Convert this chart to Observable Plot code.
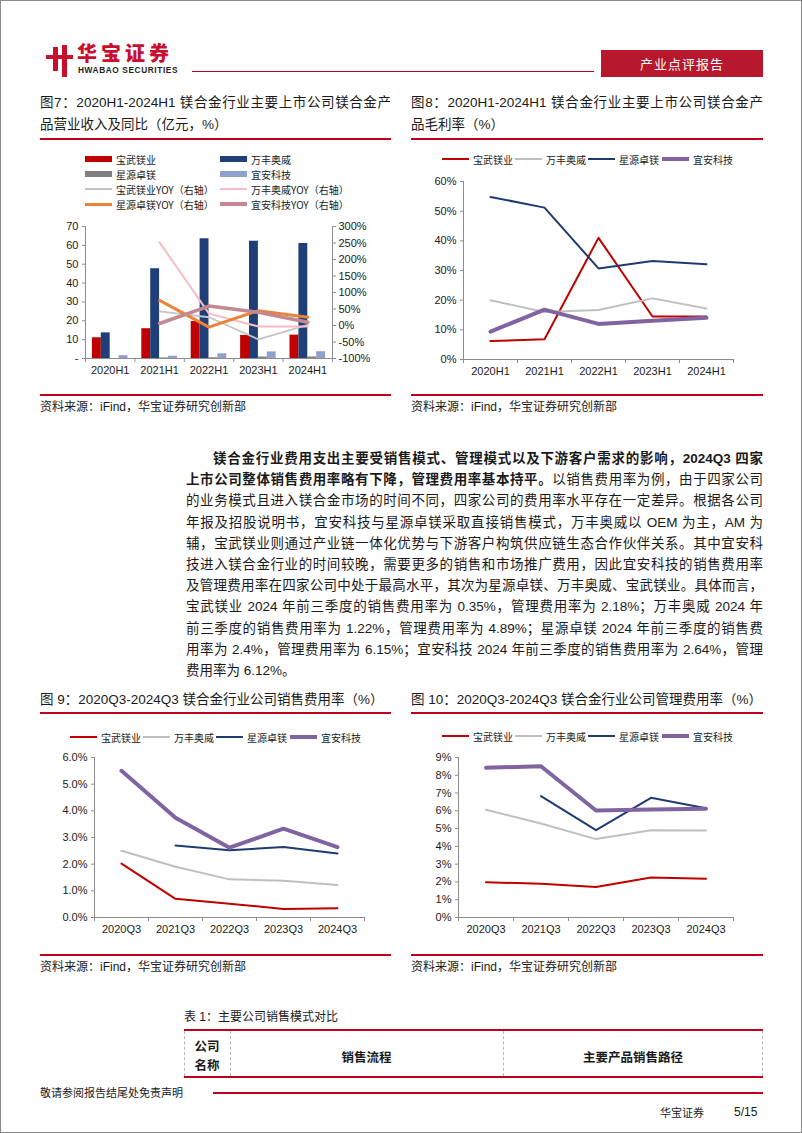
<!DOCTYPE html>
<html lang="zh-CN"><head><meta charset="utf-8">
<script src="https://cdn.jsdelivr.net/npm/d3@7"></script>
<script src="https://cdn.jsdelivr.net/npm/@observablehq/plot@0.6"></script>
<style>
html,body{margin:0;padding:0;background:#fff;}
#page{position:relative;width:802px;height:1133px;outline:1px solid #8a8a8a;outline-offset:-1px;overflow:hidden;
  font-family:"Liberation Sans","Noto Sans CJK SC",sans-serif;color:#1a1a1a;}
#page div{position:absolute;}
.chart svg{overflow:visible;}
.para div{position:relative !important;text-align:justify;text-align-last:justify;height:21.2px;line-height:21.2px;}
</style></head>
<body><div id="page"></div>
<script>
// ---------- data ----------
const halfYears = ["2020H1","2021H1","2022H1","2023H1","2024H1"];
const quarters  = ["2020Q3","2021Q3","2022Q3","2023Q3","2024Q3"];
const companies = ["宝武镁业","万丰奥威","星源卓镁","宜安科技"];

// Fig 7: revenue (亿元) and YOY (%)
const revBaowu    = [11.0, 15.8, 19.6, 12.2, 12.4];
const revWanfeng  = [13.6, 47.6, 63.5, 62.2, 61.0];
const revXingyuan = [null, 0.3, 0.4, 0.8, 0.8];
const revYian     = [1.5, 1.2, 2.5, 3.5, 3.6];
const yoyBaowu    = [null, 43, 25, -42, 2];
const yoyWanfeng  = [null, 252, 36, -3, -3];
const yoyXingyuan = [null, 76, -5, 45, 25];
const yoyYian     = [null, 6, 59, 40, 10];
const leftTicks7  = [0,10,20,30,40,50,60,70];
const rightTicks7 = [-100,-50,0,50,100,150,200,250,300];

// Fig 8: gross margin (%)
const gmBaowu    = [6.2, 6.8, 41.0, 14.5, 14.5];
const gmWanfeng  = [20.0, 16.0, 16.7, 20.6, 17.2];
const gmXingyuan = [54.8, 51.2, 30.7, 33.2, 32.1];
const gmYian     = [9.4, 16.8, 12.0, 13.1, 14.1];
const ticks8 = [0,10,20,30,40,50,60];

// Fig 9: selling expense ratio (%)
const sellBaowu    = [2.02, 0.70, 0.52, 0.32, 0.35];
const sellWanfeng  = [2.50, 1.90, 1.43, 1.38, 1.22];
const sellXingyuan = [null, 2.70, 2.52, 2.64, 2.40];
const sellYian     = [5.50, 3.74, 2.62, 3.33, 2.64];
const ticks9 = [0,1,2,3,4,5,6];

// Fig 10: admin expense ratio (%)
const admBaowu    = [1.98, 1.90, 1.72, 2.25, 2.18];
const admWanfeng  = [6.06, 5.29, 4.41, 4.91, 4.89];
const admXingyuan = [null, 6.83, 4.91, 6.73, 6.15];
const admYian     = [8.42, 8.51, 6.02, 6.07, 6.12];
const ticks10 = [0,1,2,3,4,5,6,7,8,9];

// ---------- styles ----------
const RED = "#C00000", NAVY = "#1F3B70", LGREY = "#BFBFBF", PURPLE = "#8064A2";
const BAR_COLORS = ["#C00000", "#1F3F78", "#808080", "#8EA0CC"];
const YOY_STYLE = [
  {color: "#C4C4C4", width: 1.8},
  {color: "#F7BCC4", width: 2},
  {color: "#E8843A", width: 3},
  {color: "#C48890", width: 3.5}
];
const LINE_STYLE = [
  {color: RED, width: 2},
  {color: LGREY, width: 2},
  {color: NAVY, width: 2},
  {color: PURPLE, width: 4}
];
const AX = "#8c8c8c", TXT = "#1a1a1a";
const CJK = '"Noto Sans CJK SC","Noto Sans",sans-serif';

const page = document.getElementById("page");
function el(css, html, parent = page) {
  const e = document.createElement("div");
  e.style.cssText = css;
  if (html != null) e.innerHTML = html;
  parent.appendChild(e);
  return e;
}
function hline(x, y, w, h, color) { el(`left:${x}px;top:${y - h/2}px;width:${w}px;height:${h}px;background:${color};`); }
function text(x, yc, s, fs, extra = "") { el(`left:${x}px;top:${yc - fs*0.75}px;font-size:${fs}px;line-height:${fs*1.5}px;white-space:nowrap;${extra}`, s); }

// ---------- header ----------
el(`left:53px;top:47px;width:5px;height:24px;background:#C8102E;`);
el(`left:62px;top:45px;width:5px;height:32px;background:#C8102E;`);
el(`left:46px;top:55px;width:27px;height:4px;background:#C8102E;`);
el(`left:77px;top:43px;font-family:${CJK};font-size:20px;font-weight:900;color:#C8102E;letter-spacing:4px;white-space:nowrap;line-height:20px;height:20px;`, "华宝证券");
el(`left:78px;top:66px;font-size:8.3px;line-height:9px;height:9px;font-weight:bold;color:#222;white-space:nowrap;letter-spacing:0.6px;`, "HWABAO SECURITIES");
hline(192, 71.5, 402, 1.5, "#C0001A");
el(`left:601px;top:50px;width:162px;height:27px;background:#B7182E;color:#fff;font-family:${CJK};font-size:13px;line-height:27px;text-align:center;letter-spacing:1px;`, "产业点评报告");

// ---------- titles ----------
function title2(x, w, l1, l2) {
  el(`left:${x}px;top:93px;width:${w}px;font-size:13.5px;line-height:20px;text-align:justify;text-align-last:justify;white-space:nowrap;`, l1);
  el(`left:${x}px;top:115px;font-size:13.5px;line-height:20px;white-space:nowrap;`, l2);
  hline(x, 139, w, 2.5, "#C0001A");
}
title2(40, 351, "图7：2020H1-2024H1 镁合金行业主要上市公司镁合金产", "品营业收入及同比（亿元，%）");
title2(411, 352, "图8：2020H1-2024H1 镁合金行业主要上市公司镁合金产", "品毛利率（%）");

function sourceLine(x, w, y) {
  hline(x, y, w, 2.5, "#C0001A");
  text(x, y + 12, "资料来源：iFind，华宝证券研究创新部", 12);
}
sourceLine(40, 351, 395);
sourceLine(411, 352, 395);

// ---------- legends ----------
function legendItem(x, y, color, thick, label) {
  el(`left:${x}px;top:${y - thick/2}px;width:27px;height:${thick}px;background:${color};`);
  text(x + 31, y, label, 10, `font-family:${CJK};`);
}
// fig 7 legend
legendItem(85, 159, BAR_COLORS[0], 6, companies[0]);
legendItem(220, 159, BAR_COLORS[1], 6, companies[1]);
legendItem(85, 174, BAR_COLORS[2], 6, companies[2]);
legendItem(220, 174, BAR_COLORS[3], 6, companies[3]);
legendItem(85, 189, YOY_STYLE[0].color, 2, companies[0] + "YOY（右轴）");
legendItem(220, 189, YOY_STYLE[1].color, 2, companies[1] + "YOY（右轴）");
legendItem(85, 204, YOY_STYLE[2].color, 3, companies[2] + "YOY（右轴）");
legendItem(220, 204, YOY_STYLE[3].color, 3.5, companies[3] + "YOY（右轴）");
function lineLegend(x0, y) {
  const xs = [0, 73, 146, 220];
  companies.forEach((c, k) => legendItem(x0 + xs[k], y, LINE_STYLE[k].color, LINE_STYLE[k].width === 4 ? 4 : 2.2, c));
}
lineLegend(442, 159);
lineLegend(70, 737);
lineLegend(442, 736);

// ---------- charts ----------
const baseStyle = {fontFamily: '"Liberation Sans",Arial,sans-serif', fontSize: "11px", color: TXT, background: "transparent", overflow: "visible"};

function place(svg, x, y) {
  const d = el(`left:${x}px;top:${y}px;`);
  d.className = "chart";
  d.appendChild(svg);
}

function xAxes(cats) {
  return [
    Plot.axisX(d3.range(-0.5, cats.length, 1), {tickSize: 4, stroke: AX, tickFormat: () => "", label: null}),
    Plot.axisX(d3.range(cats.length), {tickSize: 0, tickPadding: 8, tickFormat: i => cats[i], fill: TXT, fontSize: 11, label: null})
  ];
}

function lineChart({cats, series, domain, ticks, fmt, w, h, m}) {
  const marks = [
    Plot.ruleY([domain[0]], {stroke: AX}),
    Plot.ruleX([-0.5], {stroke: AX}),
    Plot.axisY(ticks, {anchor: "left", tickSize: 3, tickPadding: 4, stroke: AX, fill: TXT, tickFormat: fmt, fontSize: 11, label: null}),
    ...xAxes(cats),
    ...series.map((vals, k) => Plot.line(vals.map((v, i) => ({i, v})), {
      x: "i", y: "v", stroke: LINE_STYLE[k].color, strokeWidth: LINE_STYLE[k].width, strokeLinejoin: "round"}))
  ];
  return Plot.plot({width: w, height: h, marginLeft: m[0], marginRight: m[1], marginTop: m[2], marginBottom: m[3],
    x: {domain: [-0.5, cats.length - 0.5], axis: null}, y: {domain, axis: null}, style: baseStyle, marks});
}

// Fig 7: bars + YOY on right axis
(function () {
  const revs = [revBaowu, revWanfeng, revXingyuan, revYian];
  const yoys = [yoyBaowu, yoyWanfeng, yoyXingyuan, yoyYian];
  const L = [0, 70], R = [-100, 300];
  const toL = v => (v - R[0]) / (R[1] - R[0]) * (L[1] - L[0]) + L[0];
  const fromL = v => (v - L[0]) / (L[1] - L[0]) * (R[1] - R[0]) + R[0];
  const bw = 0.18, start = -0.36;
  const bars = revs.flatMap((vals, k) => vals.map((v, i) => ({i, k, v})).filter(d => d.v != null));
  const marks = [
    Plot.rectY(bars, {x1: d => d.i + start + d.k * bw, x2: d => d.i + start + (d.k + 1) * bw, y1: 0, y2: "v",
      fill: d => BAR_COLORS[d.k]}),
    Plot.ruleY([0], {stroke: AX}),
    Plot.ruleX([-0.5], {stroke: AX}),
    Plot.ruleX([4.5], {stroke: AX}),
    Plot.axisY(leftTicks7, {anchor: "left", tickSize: 3, tickPadding: 4, stroke: AX, fill: TXT, fontSize: 11,
      tickFormat: d => d === 0 ? "-" : String(d), label: null}),
    Plot.axisY(rightTicks7.map(toL), {anchor: "right", tickSize: 3, tickPadding: 3, stroke: AX, fill: TXT, fontSize: 11,
      tickFormat: d => Math.round(fromL(d)) + "%", label: null}),
    ...xAxes(halfYears),
    ...yoys.map((vals, k) => Plot.line(vals.map((v, i) => ({i, v: v == null ? null : toL(v)})), {
      x: "i", y: "v", stroke: YOY_STYLE[k].color, strokeWidth: YOY_STYLE[k].width, strokeLinejoin: "round"}))
  ];
  const svg = Plot.plot({width: 345, height: 170, marginLeft: 45, marginRight: 53, marginTop: 11, marginBottom: 27,
    x: {domain: [-0.5, 4.5], axis: null}, y: {domain: L, axis: null}, style: baseStyle, marks});
  place(svg, 40, 215);
})();

place(lineChart({cats: halfYears, series: [gmBaowu, gmWanfeng, gmXingyuan, gmYian], domain: [0, 60], ticks: ticks8,
  fmt: d => d + "%", w: 352, h: 215, m: [52, 30, 11, 26]}), 411, 170);

// ---------- paragraph ----------
const para = el(`left:186px;top:448px;width:577px;font-size:13.5px;`);
para.className = "para";
const lines = [
  '<b>镁合金行业费用支出主要受销售模式、管理模式以及下游客户需求的影响，2024Q3 四家</b>',
  '<b>上市公司整体销售费用率略有下降，管理费用率基本持平。</b>以销售费用率为例，由于四家公司',
  '的业务模式且进入镁合金市场的时间不同，四家公司的费用率水平存在一定差异。根据各公司',
  '年报及招股说明书，宜安科技与星源卓镁采取直接销售模式，万丰奥威以 OEM 为主，AM 为',
  '辅，宝武镁业则通过产业链一体化优势与下游客户构筑供应链生态合作伙伴关系。其中宜安科',
  '技进入镁合金行业的时间较晚，需要更多的销售和市场推广费用，因此宜安科技的销售费用率',
  '及管理费用率在四家公司中处于最高水平，其次为星源卓镁、万丰奥威、宝武镁业。具体而言，',
  '宝武镁业 2024 年前三季度的销售费用率为 0.35%，管理费用率为 2.18%；万丰奥威 2024 年',
  '前三季度的销售费用率为 1.22%，管理费用率为 4.89%；星源卓镁 2024 年前三季度的销售费',
  '用率为 2.4%，管理费用率为 6.15%；宜安科技 2024 年前三季度的销售费用率为 2.64%，管理',
  '费用率为 6.12%。'
];
lines.forEach((s, i) => {
  const d = el(i === 0 ? "margin-left:27px;" : "", s, para);
  if (i === lines.length - 1) d.style.textAlignLast = "left";
});

// ---------- figs 9 & 10 ----------
text(40, 700, "图 9：2020Q3-2024Q3 镁合金行业公司销售费用率（%）", 13.5);
hline(40, 713, 351, 2.5, "#C0001A");
text(411, 700, "图 10：2020Q3-2024Q3 镁合金行业公司管理费用率（%）", 13.5);
hline(411, 713, 352, 2.5, "#C0001A");

place(lineChart({cats: quarters, series: [sellBaowu, sellWanfeng, sellXingyuan, sellYian], domain: [0, 6], ticks: ticks9,
  fmt: d => d.toFixed(1) + "%", w: 350, h: 195, m: [54, 26, 12, 23]}), 40, 745);
place(lineChart({cats: quarters, series: [admBaowu, admWanfeng, admXingyuan, admYian], domain: [0, 9], ticks: ticks10,
  fmt: d => d + "%", w: 358, h: 195, m: [53, 30, 12, 23]}), 405, 745);

sourceLine(40, 351, 955);
sourceLine(411, 352, 955);

// ---------- table ----------
text(184, 1017, "表 1：主要公司销售模式对比", 12);
hline(184, 1030, 579, 2.5, "#C0001A");
hline(184, 1077, 579, 1.5, "#C0001A");
[184, 230, 503, 762].forEach(x => el(`left:${x}px;top:1031px;height:45px;width:0;border-left:1px dashed #b5b5b5;`));
el(`left:184px;top:1036px;width:46px;text-align:center;font-size:12.5px;line-height:19px;font-weight:bold;font-family:${CJK};`, "公司<br>名称");
el(`left:230px;top:1045px;width:273px;text-align:center;font-size:12.5px;line-height:24px;font-weight:bold;font-family:${CJK};`, "销售流程");
el(`left:503px;top:1045px;width:260px;text-align:center;font-size:12.5px;line-height:24px;font-weight:bold;font-family:${CJK};`, "主要产品销售路径");

// ---------- footer ----------
text(40, 1092, "敬请参阅报告结尾处免责声明", 11, `font-family:${CJK};`);
hline(213, 1093, 550, 1.5, "#C0001A");
text(660, 1112, "华宝证券", 11, `font-family:${CJK};`);
text(734, 1112, "5/15", 12);
</script>
</body></html>
